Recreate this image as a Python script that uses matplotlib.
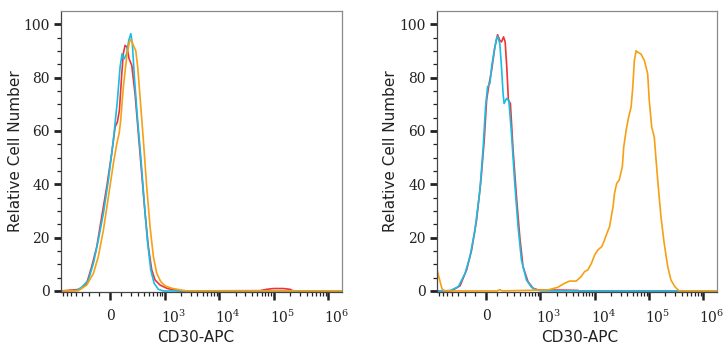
import numpy as np
import matplotlib
matplotlib.use("Agg")
import matplotlib.pyplot as plt
from matplotlib.ticker import NullFormatter
from matplotlib.transforms import ScaledTranslation

plt.rcParams['mathtext.fontset'] = 'dejavuserif'

# fluorescence (CD30-APC) vs relative cell number, left histogram overlay
left_red_x = [-780, -326, -230, -171, -118, -72, -28, 14, 43, 63, 81, 103, 118, 135, 156, 178,
              210, 252, 300, 354, 415, 483, 563, 653, 813, 1085, 1450, 1790,
              56000, 74000, 98500, 150000, 199000, 229000, 1780000]
left_red_y = [0, 0.6, 2.9, 9.1, 16.6, 27.8, 39.1, 51.6, 61.5, 63.4, 67.8, 81.5, 89.0, 92.1, 91.5, 87.1,
              84.6, 74.0, 59.0, 44.0, 29.1, 16.6, 7.9, 4.1, 2.2, 1.0, 0.4, 0,
              0.1, 0.6, 0.9, 0.9, 0.6, 0, 0]

left_cyan_x = [-780, -396, -300, -209, -152, -103, -57, -14, 28, 63, 87, 106, 125, 152, 175, 198,
               217, 243, 285, 338, 396, 461, 539, 625, 754, 938, 1780000]
left_cyan_y = [0, 0.1, 1.4, 4.1, 10.4, 19.1, 29.1, 41.6, 56.6, 71.5, 84.0, 89.0, 87.0, 89.0, 94.0, 96.5,
               92.8, 80.3, 65.3, 50.3, 34.1, 19.1, 7.9, 2.9, 0.6, 0, 0]

left_orange_x = [-780, -355, -230, -152, -103, -57, -14, 28, 58, 78, 93, 118, 152, 182, 201, 230,
                 262, 290, 326, 383, 448, 522, 606, 703, 838, 1008, 1350, 1918, 2540, 1780000]
left_orange_y = [0, 0.1, 2.2, 6.6, 12.9, 22.8, 35.3, 47.8, 55.3, 59.0, 64.0, 76.5, 87.8, 93.4, 94.3, 92.1,
                 90.1, 84.0, 72.8, 56.6, 39.1, 24.1, 12.9, 6.6, 3.5, 1.9, 1.0, 0.4, 0, 0]

# right histogram overlay
right_red_x = [-780, -400, -266, -182, -128, -81, -42, -14, 6, 25, 49, 78, 103, 125, 142, 164,
               182, 201, 221, 247, 285, 338, 396, 461, 578, 723, 898, 2800, 4900, 5300, 1780000]
right_red_y = [0, 0.1, 1.9, 7.9, 15.4, 26.6, 41.6, 56.6, 71.5, 77.2, 82.8, 91.5, 96.1, 94.0, 93.4, 95.3,
               93.4, 84.0, 71.5, 70.3, 52.8, 35.3, 20.3, 9.1, 3.5, 1.0, 0.4, 0.3, 0.2, 0, 0]

right_cyan_x = [-780, -434, -290, -200, -145, -96, -51, -23, -3, 14, 34, 49, 72, 93, 103, 125,
                142, 159, 170, 198, 226, 262, 310, 365, 428, 539, 674, 838, 1040, 1780000]
right_cyan_y = [0, 0.1, 1.6, 6.6, 12.9, 22.8, 37.8, 54.0, 69.0, 76.5, 77.8, 84.0, 90.2, 94.6, 95.5, 92.8,
                84.0, 74.0, 70.3, 72.2, 71.5, 59.0, 40.3, 24.1, 11.6, 4.1, 1.4, 0.4, 0, 0]

right_orange_x = [-780, -670, -620, -540, 100, 125, 150, 1390, 1730, 2110, 2810, 3460, 4580, 5670,
                  6500, 7500, 8750, 10000, 11500, 13500, 14800, 16400, 18800, 21800, 23200, 25400,
                  28300, 32300, 34300, 38000, 42300, 46900, 50300, 53800, 58000, 62000, 71000,
                  82000, 94500, 101000, 112000, 125000, 135000, 148000, 166000, 190000, 221000,
                  253000, 299000, 359000, 1780000]
right_orange_y = [8.0, 2.9, 0.6, 0, 0, 0.5, 0, 0.4, 0.9, 1.4, 2.9, 3.7, 3.7, 5.4,
                  7.2, 7.9, 10.4, 13.5, 15.4, 16.6, 18.5, 21.0, 24.1, 31.6, 36.6, 40.3,
                  41.6, 46.6, 54.0, 60.3, 65.3, 69.0, 76.5, 86.5, 90.1, 89.5, 88.9,
                  86.5, 81.5, 71.5, 61.5, 57.7, 49.0, 39.1, 27.8, 17.9, 9.1,
                  4.1, 1.6, 0, 0]

x_ticks = [0, 1e3, 1e4, 1e5, 1e6]
x_tick_labels = ['0', r'$10^{3}$', r'$10^{4}$', r'$10^{5}$', r'$10^{6}$']
y_ticks = [0, 20, 40, 60, 80, 100]

RED = '#ee3535'
CYAN = '#19bce6'
ORANGE = '#f5a015'


def minor_x_ticks():
    neg = [-100 * k for k in range(1, 8)]
    lin = [100 * k for k in range(1, 10)]
    logs = [m * 10 ** e for e in range(3, 6) for m in range(2, 10)]
    return neg + lin + logs


def setup_axes(fig, ax):
    ax.set_xscale('asinh', linear_width=200)
    ax.set_xlim(-780, 1.78e6)
    ax.set_ylim(-0.4, 105)

    ax.set_xticks(x_ticks)
    ax.set_xticklabels(x_tick_labels)
    ax.set_xticks(minor_x_ticks(), minor=True)
    ax.xaxis.set_minor_formatter(NullFormatter())
    ax.set_yticks(y_ticks)
    ax.set_yticks(np.arange(5, 100, 5), minor=True)

    ax.tick_params(axis='x', which='major', length=6, width=1.8, pad=6,
                   labelsize=10, labelfontfamily='DejaVu Serif', colors='#222222')
    ax.tick_params(axis='x', which='minor', length=3, width=0.9, colors='#222222')
    ax.tick_params(axis='y', which='major', length=5, width=2, pad=3,
                   labelsize=10, labelfontfamily='DejaVu Serif', colors='#222222')
    ax.tick_params(axis='y', which='minor', length=3, width=0.9, colors='#222222')

    # labels sit a bit right of their tick, like cytometry software does
    shift = ScaledTranslation(-0.04, 0, fig.dpi_scale_trans)
    for lab in ax.get_xticklabels():
        lab.set_horizontalalignment('left')
        lab.set_transform(lab.get_transform() + shift)

    for side in ['top', 'right', 'left', 'bottom']:
        ax.spines[side].set_color('#8a8a8a')
        ax.spines[side].set_linewidth(0.9)
    ax.spines['left'].set_color('#444444')
    ax.spines['bottom'].set_color('#444444')

    ax.set_ylabel('Relative Cell Number', fontsize=11, color='#222222')
    ax.set_xlabel('CD30-APC', fontsize=11, color='#222222')


fig = plt.figure(figsize=(7.28, 3.5), dpi=100)
ax1 = fig.add_axes([61 / 728, 58 / 350, 281 / 728, 281 / 350])
ax2 = fig.add_axes([437 / 728, 58 / 350, 280 / 728, 281 / 350])

for ax in (ax1, ax2):
    setup_axes(fig, ax)

lw = 1.2
ax1.plot(left_red_x, left_red_y, color=RED, lw=lw)
ax1.plot(left_cyan_x, left_cyan_y, color=CYAN, lw=lw)
ax1.plot(left_orange_x, left_orange_y, color=ORANGE, lw=lw)

ax2.plot(right_red_x, right_red_y, color=RED, lw=lw)
ax2.plot(right_cyan_x, right_cyan_y, color=CYAN, lw=lw)
ax2.plot(right_orange_x, right_orange_y, color=ORANGE, lw=lw)

ax1.yaxis.set_label_coords(-0.135, 0.5)
ax1.xaxis.set_label_coords(0.48, -0.135)
ax2.yaxis.set_label_coords(-0.139, 0.5)
ax2.xaxis.set_label_coords(0.51, -0.135)

fig.savefig('out.png', dpi=100)
